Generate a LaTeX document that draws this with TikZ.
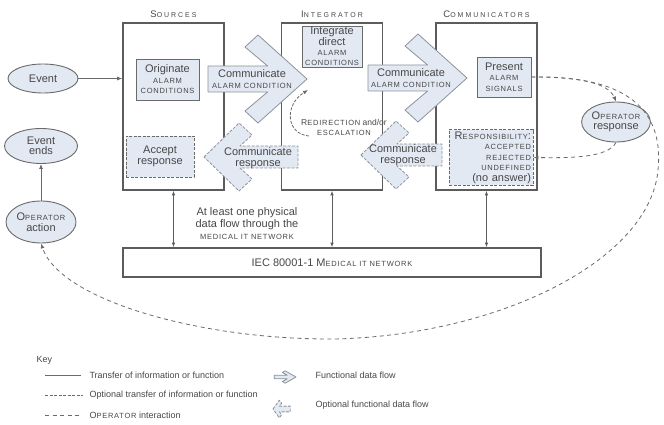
\documentclass[tikz,border=0pt]{standalone}
\usepackage{fontspec}
\setmainfont{Liberation Sans}
\newfontfamily\scfont[LetterSpace=10]{Liberation Sans}
\newfontfamily\headfont[LetterSpace=28]{Liberation Sans}
\usetikzlibrary{arrows.meta,positioning,shapes.geometric}
\definecolor{boxfill}{HTML}{E3E9F3}
\definecolor{boxedge}{HTML}{5C5C5C}
\definecolor{lineclr}{HTML}{6A6A6A}
\definecolor{flowedge}{HTML}{8C929C}
\definecolor{ink}{HTML}{474747}
\newcommand\scap[1]{{\scfont\fontsize{7.5}{8}\selectfont #1}}
\newcommand\headlabel[2]{{\headfont\fontsize{9.5}{10}\selectfont #1\fontsize{7}{8}\selectfont #2}}
\tikzset{
  grpbox/.style={draw=boxedge, line width=1.6pt, minimum width=101pt, minimum height=167pt, inner sep=0pt},
  func/.style={draw=lineclr, fill=boxfill, line width=0.8pt, align=center, inner sep=1pt},
  optfunc/.style={func, dash pattern=on 3pt off 1.5pt},
  actor/.style={ellipse, draw=lineclr, fill=boxfill, line width=0.9pt, align=center, inner sep=0pt},
  flowshape/.style={draw=flowedge, fill=boxfill, line width=0.8pt, line join=round},
  optflowshape/.style={flowshape, dash pattern=on 3pt off 1.5pt},
  optline/.style={draw=lineclr, line width=0.8pt, dash pattern=on 3pt off 1.5pt},
  opline/.style={draw=lineclr, line width=0.8pt, dash pattern=on 4pt off 3.5pt},
  arr/.style={-{Latex[length=5pt,width=4pt]}},
  netlink/.style={draw=boxedge, line width=0.8pt, {Latex[length=4.5pt,width=3.5pt]}-{Latex[length=4.5pt,width=3.5pt]}},
  pics/fwdarrow/.style={code={
    \path[pic actions] (0,0) -- ++(-49,-44) -- ++(-13,12) -- ++(22.6,19) -- ++(-59.6,0)
      -- ++(0,26) -- ++(59.6,0) -- ++(-22.6,19) -- ++(13,12) -- cycle;}},
  pics/backarrow/.style={code={
    \path[pic actions] (0,0) -- ++(35,-34) -- ++(13,12) -- ++(-12,11) -- ++(#1,0)
      -- ++(0,22) -- ++(-#1,0) -- ++(12,11) -- ++(-13,12) -- cycle;}},
}
\begin{document}
\begin{tikzpicture}[x=1pt, y=-1pt, text=ink, font=\fontsize{11}{10.5}\selectfont]
  \useasboundingbox (0,0) rectangle (664,425);
  % groups
  \node[grpbox] (src) at (173.5,106.5) {};
  \node[grpbox] (integ) at (332,106.5) {};
  \node[grpbox] (comm) at (486.5,106.5) {};
  \node[above=1pt of src] (srclabel) {\headlabel{S}{OURCES}};
  \node[above=1pt of integ] (integlabel) {\headlabel{I}{NTEGRATOR}};
  \node[above=1pt of comm] (commlabel) {\headlabel{C}{OMMUNICATORS}};
  % network
  \node[draw=boxedge, line width=1.6pt, minimum width=418pt, minimum height=29pt] (net) at (332,262.5) {IEC 80001-1 M\scap{EDICAL IT NETWORK}};
  \draw[netlink] (src.south) -- (src.south |- net.north);
  \draw[netlink] (integ.south) -- (integ.south |- net.north);
  \draw[netlink] (comm.south) -- (comm.south |- net.north);
  \node[align=center, font=\fontsize{11}{12}\selectfont] (note) at (247,224) {At least one physical\\data flow through the\\\scap{MEDICAL IT NETWORK}};
  % functions
  \node[func, minimum width=63pt, minimum height=41pt] (originate) at (167.5,79.5) {Originate\\\scap{ALARM}\\\scap{CONDITIONS}};
  \node[optfunc, minimum width=68pt, minimum height=41pt] (accept) at (160,156.5) {Accept\\response};
  \node[func, minimum width=60pt, minimum height=41pt, font=\fontsize{11}{10}\selectfont] (integrate) at (332,46.5) {Integrate\\direct\\\scap{ALARM}\\\scap{CONDITIONS}};
  \node[func, minimum width=54pt, minimum height=40pt] (present) at (504,77) {Present\\\scap{ALARM}\\\scap{SIGNALS}};
  \node[optfunc, align=right, text width=80pt, inner sep=2pt, minimum height=55pt] (resp) at (491,157.5) {R\scap{ESPONSIBILITY}:\\\scap{ACCEPTED}\\\scap{REJECTED}\\\scap{UNDEFINED}\\(no answer)};
  % flows
  \pic[flowshape] at (307,79) {fwdarrow};
  \pic[flowshape] at (467,78) {fwdarrow};
  \pic[optflowshape] at (204,157) {backarrow=58};
  \pic[optflowshape] at (361,155) {backarrow=45};
  \node[inner sep=0pt, align=center] (cac1) at (252,79) {Communicate\\\scap{ALARM CONDITION}};
  \node[inner sep=0pt, align=center] (cac2) at (411,78) {Communicate\\\scap{ALARM CONDITION}};
  \node[inner sep=0pt, align=center] (cr1) at (258,158) {Communicate\\response};
  \node[inner sep=0pt, align=center] (cr2) at (403,155) {Communicate\\response};
  % redirection
  \node[inner sep=0pt, align=center, font=\fontsize{8.5}{10}\selectfont] (redir) at (344,127) {R\scap{EDIRECTION} and/or\\\scap{ESCALATION}};
  \coordinate (redirstart) at (309,136);
  \coordinate (redirend) at (308,90);
  \draw[optline, arr] (redirstart) .. controls (286,134) and (284,105) .. (redirend);
  % operator
  \node[actor, minimum width=70pt, minimum height=29pt] (event) at (43,78.5) {Event};
  \node[actor, minimum width=73pt, minimum height=35pt] (eventends) at (41,146) {Event\\ends};
  \node[actor, minimum width=70pt, minimum height=42pt] (opaction) at (41,222) {O\scap{PERATOR}\\action};
  \node[actor, minimum width=68pt, minimum height=40pt] (opresp) at (616,122) {O\scap{PERATOR}\\response};
  \draw[lineclr, line width=0.8pt, arr] (event) -- (event -| src.west);
  \draw[lineclr, line width=0.8pt, arr] (opaction) -- (eventends);
  \draw[opline, arr] (present.east) .. controls (575,77) and (608,82) .. (opresp.north);
  \draw[opline, arr] (opresp.south) .. controls (608,158) and (570,158) .. (resp.east);
  \draw[opline, arr] (present.east) .. controls (640,75) and (663,120) .. (658,170)
    .. controls (650,260) and (500,335) .. (335,339)
    .. controls (200,340) and (60,300) .. (opaction.south);
  % key
  \node[anchor=west, font=\fontsize{9}{10}\selectfont] (key) at (33,360) {Key};
  \begin{scope}[font=\fontsize{9}{10}\selectfont]
    \node[anchor=west] (k1) at (86,375) {Transfer of information or function};
    \node[anchor=west] (k2) at (86,395) {Optional transfer of information or function};
    \node[anchor=west] (k3) at (86,415) {O\scap{PERATOR} interaction};
    \node[anchor=west] (k4) at (312,375) {Functional data flow};
    \node[anchor=west] (k5) at (312,405) {Optional functional data flow};
  \end{scope}
  \draw[lineclr, line width=0.8pt] ([xshift=-41pt]k1.west) -- ([xshift=-5pt]k1.west);
  \draw[optline] ([xshift=-41pt]k2.west) -- ([xshift=-3pt]k2.west);
  \draw[opline] ([xshift=-41pt]k3.west) -- ([xshift=-4pt]k3.west);
  \pic[flowshape, xscale=0.22, yscale=0.14] at (296,377) {fwdarrow};
  \pic[optflowshape, xscale=0.18, yscale=0.26] at (273,409) {backarrow=60};
\end{tikzpicture}
\end{document}
